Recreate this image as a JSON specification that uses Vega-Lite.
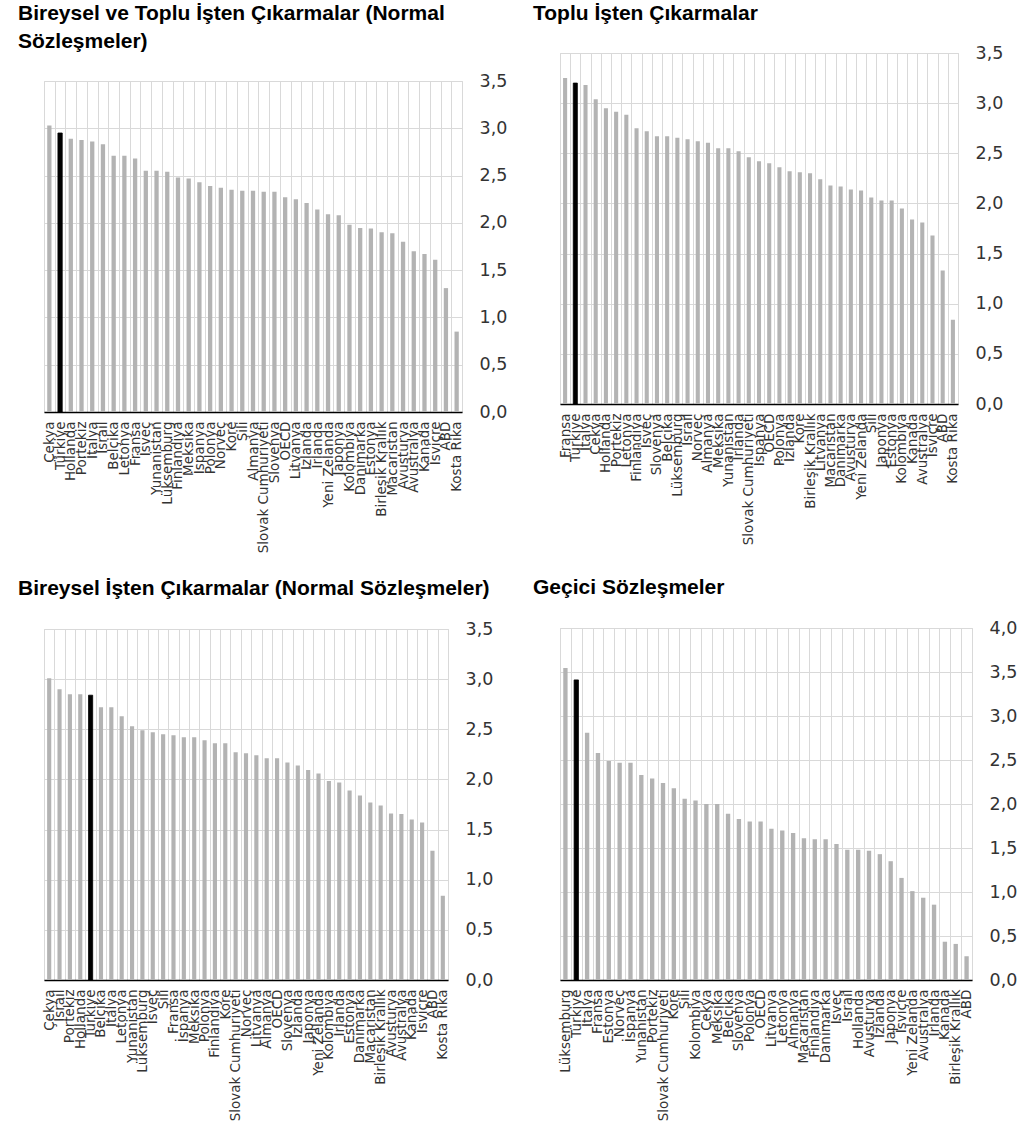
{
  "$schema": "https://vega.github.io/schema/vega-lite/v6.json",
  "background": "white",
  "padding": {"left": 17, "top": 1, "right": 5, "bottom": 5},
  "datasets": {
    "p1": [
      {"ulke": "Çekya", "deger": 3.03}, {"ulke": "Türkiye", "deger": 2.95}, {"ulke": "Hollanda", "deger": 2.89},
      {"ulke": "Portekiz", "deger": 2.875}, {"ulke": "İtalya", "deger": 2.86}, {"ulke": "İsrail", "deger": 2.83},
      {"ulke": "Belçika", "deger": 2.71}, {"ulke": "Letonya", "deger": 2.71}, {"ulke": "Fransa", "deger": 2.68},
      {"ulke": "İsveç", "deger": 2.55}, {"ulke": "Yunanistan", "deger": 2.55}, {"ulke": "Lüksemburg", "deger": 2.54},
      {"ulke": "Finlandiya", "deger": 2.48}, {"ulke": "Meksika", "deger": 2.47}, {"ulke": "İspanya", "deger": 2.43},
      {"ulke": "Polonya", "deger": 2.39}, {"ulke": "Norveç", "deger": 2.37}, {"ulke": "Kore", "deger": 2.35},
      {"ulke": "Şili", "deger": 2.34}, {"ulke": "Almanya", "deger": 2.34}, {"ulke": "Slovak Cumhuriyeti", "deger": 2.33},
      {"ulke": "Slovenya", "deger": 2.33}, {"ulke": "OECD", "deger": 2.27}, {"ulke": "Litvanya", "deger": 2.25},
      {"ulke": "İzlanda", "deger": 2.21}, {"ulke": "İrlanda", "deger": 2.14}, {"ulke": "Yeni Zelanda", "deger": 2.09},
      {"ulke": "Japonya", "deger": 2.08}, {"ulke": "Kolombiya", "deger": 1.98}, {"ulke": "Danimarka", "deger": 1.945},
      {"ulke": "Estonya", "deger": 1.94}, {"ulke": "Birleşik Krallık", "deger": 1.90}, {"ulke": "Macaristan", "deger": 1.89},
      {"ulke": "Avusturya", "deger": 1.80}, {"ulke": "Avustralya", "deger": 1.70}, {"ulke": "Kanada", "deger": 1.67},
      {"ulke": "İsviçre", "deger": 1.61}, {"ulke": "ABD", "deger": 1.31}, {"ulke": "Kosta Rika", "deger": 0.85}
    ],
    "p2": [
      {"ulke": "Fransa", "deger": 3.25}, {"ulke": "Türkiye", "deger": 3.20}, {"ulke": "İtalya", "deger": 3.18},
      {"ulke": "Çekya", "deger": 3.04}, {"ulke": "Hollanda", "deger": 2.95}, {"ulke": "Portekiz", "deger": 2.915},
      {"ulke": "Letonya", "deger": 2.885}, {"ulke": "Finlandiya", "deger": 2.75}, {"ulke": "İsveç", "deger": 2.72},
      {"ulke": "Slovenya", "deger": 2.67}, {"ulke": "Belçika", "deger": 2.67}, {"ulke": "Lüksemburg", "deger": 2.655},
      {"ulke": "İsrail", "deger": 2.64}, {"ulke": "Norveç", "deger": 2.62}, {"ulke": "Almanya", "deger": 2.605},
      {"ulke": "Meksika", "deger": 2.55}, {"ulke": "Yunanistan", "deger": 2.55}, {"ulke": "İrlanda", "deger": 2.52},
      {"ulke": "Slovak Cumhuriyeti", "deger": 2.46}, {"ulke": "İspanya", "deger": 2.42}, {"ulke": "OECD", "deger": 2.40},
      {"ulke": "Polonya", "deger": 2.36}, {"ulke": "İzlanda", "deger": 2.32}, {"ulke": "Kore", "deger": 2.31},
      {"ulke": "Birleşik Krallık", "deger": 2.30}, {"ulke": "Litvanya", "deger": 2.24}, {"ulke": "Macaristan", "deger": 2.18},
      {"ulke": "Danimarka", "deger": 2.17}, {"ulke": "Avusturya", "deger": 2.14}, {"ulke": "Yeni Zelanda", "deger": 2.13},
      {"ulke": "Şili", "deger": 2.06}, {"ulke": "Japonya", "deger": 2.03}, {"ulke": "Estonya", "deger": 2.03},
      {"ulke": "Kolombiya", "deger": 1.95}, {"ulke": "Kanada", "deger": 1.84}, {"ulke": "Avustralya", "deger": 1.81},
      {"ulke": "İsviçre", "deger": 1.68}, {"ulke": "ABD", "deger": 1.33}, {"ulke": "Kosta Rika", "deger": 0.84}
    ],
    "p3": [
      {"ulke": "Çekya", "deger": 3.01}, {"ulke": "İsrail", "deger": 2.90}, {"ulke": "Portekiz", "deger": 2.85},
      {"ulke": "Hollanda", "deger": 2.85}, {"ulke": "Türkiye", "deger": 2.84}, {"ulke": "Belçika", "deger": 2.72},
      {"ulke": "İtalya", "deger": 2.72}, {"ulke": "Letonya", "deger": 2.63}, {"ulke": "Yunanistan", "deger": 2.53},
      {"ulke": "Lüksemburg", "deger": 2.49}, {"ulke": "İsveç", "deger": 2.47}, {"ulke": "Şili", "deger": 2.45},
      {"ulke": "Fransa", "deger": 2.44}, {"ulke": "İspanya", "deger": 2.42}, {"ulke": "Meksika", "deger": 2.42},
      {"ulke": "Polonya", "deger": 2.39}, {"ulke": "Finlandiya", "deger": 2.36}, {"ulke": "Kore", "deger": 2.36},
      {"ulke": "Slovak Cumhuriyeti", "deger": 2.27}, {"ulke": "Norveç", "deger": 2.26}, {"ulke": "Litvanya", "deger": 2.24},
      {"ulke": "Almanya", "deger": 2.21}, {"ulke": "OECD", "deger": 2.21}, {"ulke": "Slovenya", "deger": 2.17},
      {"ulke": "İzlanda", "deger": 2.14}, {"ulke": "Japonya", "deger": 2.095}, {"ulke": "Yeni Zelanda", "deger": 2.06},
      {"ulke": "Kolombiya", "deger": 1.985}, {"ulke": "İrlanda", "deger": 1.97}, {"ulke": "Estonya", "deger": 1.89},
      {"ulke": "Danimarka", "deger": 1.84}, {"ulke": "Macaristan", "deger": 1.77}, {"ulke": "Birleşik Krallık", "deger": 1.74},
      {"ulke": "Avusturya", "deger": 1.66}, {"ulke": "Avustralya", "deger": 1.655}, {"ulke": "Kanada", "deger": 1.60},
      {"ulke": "İsviçre", "deger": 1.57}, {"ulke": "ABD", "deger": 1.29}, {"ulke": "Kosta Rika", "deger": 0.84}
    ],
    "p4": [
      {"ulke": "Lüksemburg", "deger": 3.545}, {"ulke": "Türkiye", "deger": 3.41}, {"ulke": "İtalya", "deger": 2.81},
      {"ulke": "Fransa", "deger": 2.58}, {"ulke": "Estonya", "deger": 2.49}, {"ulke": "Norveç", "deger": 2.47},
      {"ulke": "İspanya", "deger": 2.47}, {"ulke": "Yunanistan", "deger": 2.33}, {"ulke": "Portekiz", "deger": 2.29},
      {"ulke": "Slovak Cumhuriyeti", "deger": 2.24}, {"ulke": "Kore", "deger": 2.18}, {"ulke": "Şili", "deger": 2.06},
      {"ulke": "Kolombiya", "deger": 2.04}, {"ulke": "Çekya", "deger": 2.00}, {"ulke": "Meksika", "deger": 2.00},
      {"ulke": "Belçika", "deger": 1.89}, {"ulke": "Slovenya", "deger": 1.83}, {"ulke": "Polonya", "deger": 1.80},
      {"ulke": "OECD", "deger": 1.80}, {"ulke": "Litvanya", "deger": 1.72}, {"ulke": "Letonya", "deger": 1.70},
      {"ulke": "Almanya", "deger": 1.67}, {"ulke": "Macaristan", "deger": 1.61}, {"ulke": "Finlandiya", "deger": 1.60},
      {"ulke": "Danimarka", "deger": 1.60}, {"ulke": "İsveç", "deger": 1.545}, {"ulke": "İsrail", "deger": 1.48},
      {"ulke": "Hollanda", "deger": 1.48}, {"ulke": "Avusturya", "deger": 1.47}, {"ulke": "İzlanda", "deger": 1.43},
      {"ulke": "Japonya", "deger": 1.35}, {"ulke": "İsviçre", "deger": 1.16}, {"ulke": "Yeni Zelanda", "deger": 1.01},
      {"ulke": "Avustralya", "deger": 0.935}, {"ulke": "İrlanda", "deger": 0.856}, {"ulke": "Kanada", "deger": 0.435},
      {"ulke": "Birleşik Krallık", "deger": 0.41}, {"ulke": "ABD", "deger": 0.27}
    ]
  },
  "hconcat": [
    {
      "spacing": 23,
      "vconcat": [
        {
          "spacing": 19,
          "vconcat": [
            {
              "title": {"text": ["Bireysel ve Toplu İşten Çıkarmalar (Normal", "Sözleşmeler)"], "dx": -26, "orient": "bottom", "offset": -18},
              "width": 418, "height": 0,
              "data": {"values": [{}]},
              "mark": {"type": "text", "text": ""},
              "view": {"stroke": null}
            },
            {
              "width": 418, "height": 331,
              "data": {"name": "p1"},
              "mark": {"type": "bar", "width": {"band": 0.4}, "strokeWidth": 0.8},
              "encoding": {
                "x": {"field": "ulke", "type": "nominal", "sort": null, "scale": {"paddingInner": 0, "paddingOuter": 0}},
                "y": {"field": "deger", "type": "quantitative", "scale": {"domain": [0, 3.5]}, "axis": {"values": [0, 0.5, 1, 1.5, 2, 2.5, 3, 3.5]}},
                "color": {"condition": {"test": "datum.ulke === 'Türkiye'", "value": "#000000"}, "value": "#b3b3b3"},
                "stroke": {"condition": {"test": "datum.ulke === 'Türkiye'", "value": "#000000"}, "value": "transparent"}
              }
            }
          ]
        },
        {
          "title": {"text": "Bireysel İşten Çıkarmalar (Normal Sözleşmeler)", "dx": -26},
          "width": 404, "height": 351,
          "data": {"name": "p3"},
          "mark": {"type": "bar", "width": {"band": 0.4}, "strokeWidth": 0.8},
          "encoding": {
            "x": {"field": "ulke", "type": "nominal", "sort": null, "scale": {"paddingInner": 0, "paddingOuter": 0}},
            "y": {"field": "deger", "type": "quantitative", "scale": {"domain": [0, 3.5]}, "axis": {"values": [0, 0.5, 1, 1.5, 2, 2.5, 3, 3.5]}},
            "color": {"condition": {"test": "datum.ulke === 'Türkiye'", "value": "#000000"}, "value": "#b3b3b3"},
            "stroke": {"condition": {"test": "datum.ulke === 'Türkiye'", "value": "#000000"}, "value": "transparent"}
          }
        }
      ]
    },
    {
      "spacing": 30,
      "vconcat": [
        {
          "spacing": 19,
          "vconcat": [
            {
              "title": {"text": "Toplu İşten Çıkarmalar", "dx": -27, "orient": "bottom", "offset": -18},
              "width": 398, "height": 0,
              "data": {"values": [{}]},
              "mark": {"type": "text", "text": ""},
              "view": {"stroke": null}
            },
            {
              "width": 398, "height": 351,
              "data": {"name": "p2"},
              "mark": {"type": "bar", "width": {"band": 0.4}, "strokeWidth": 0.8},
              "encoding": {
                "x": {"field": "ulke", "type": "nominal", "sort": null, "scale": {"paddingInner": 0, "paddingOuter": 0}},
                "y": {"field": "deger", "type": "quantitative", "scale": {"domain": [0, 3.5]}, "axis": {"values": [0, 0.5, 1, 1.5, 2, 2.5, 3, 3.5]}},
                "color": {"condition": {"test": "datum.ulke === 'Türkiye'", "value": "#000000"}, "value": "#b3b3b3"},
                "stroke": {"condition": {"test": "datum.ulke === 'Türkiye'", "value": "#000000"}, "value": "transparent"}
              }
            }
          ]
        },
        {
          "title": {"text": "Geçici Sözleşmeler", "dx": -27},
          "width": 412, "height": 352,
          "data": {"name": "p4"},
          "mark": {"type": "bar", "width": {"band": 0.4}, "strokeWidth": 0.8},
          "encoding": {
            "x": {"field": "ulke", "type": "nominal", "sort": null, "scale": {"paddingInner": 0, "paddingOuter": 0}},
            "y": {"field": "deger", "type": "quantitative", "scale": {"domain": [0, 4]}, "axis": {"values": [0, 0.5, 1, 1.5, 2, 2.5, 3, 3.5, 4]}},
            "color": {"condition": {"test": "datum.ulke === 'Türkiye'", "value": "#000000"}, "value": "#b3b3b3"},
            "stroke": {"condition": {"test": "datum.ulke === 'Türkiye'", "value": "#000000"}, "value": "transparent"}
          }
        }
      ]
    }
  ],
  "spacing": 24,
  "config": {
    "locale": {"number": {"decimal": ",", "thousands": ".", "grouping": [3], "currency": ["", " TL"]}},
    "view": {"stroke": "#d9d9d9", "strokeWidth": 1},
    "title": {"anchor": "start", "frame": "group", "font": "Liberation Sans", "fontSize": 21, "fontWeight": "bold", "color": "#000000", "lineHeight": 28, "offset": 21},
    "axisX": {"labelAngle": -90, "tickBand": "extent", "grid": true, "gridColor": "#d9d9d9", "gridWidth": 1, "ticks": false, "domainColor": "#000000", "domainWidth": 1.5, "labelPadding": 9, "labelFont": "DejaVu Sans", "labelFontSize": 13.5, "labelColor": "#333333", "labelOverlap": false, "labelLimit": 0, "title": null},
    "axisY": {"orient": "right", "format": ".1f", "grid": true, "gridColor": "#d9d9d9", "gridWidth": 1, "domain": false, "ticks": false, "labelPadding": 17, "labelFont": "DejaVu Sans", "labelFontSize": 17.5, "labelColor": "#333333", "title": null}
  }
}
